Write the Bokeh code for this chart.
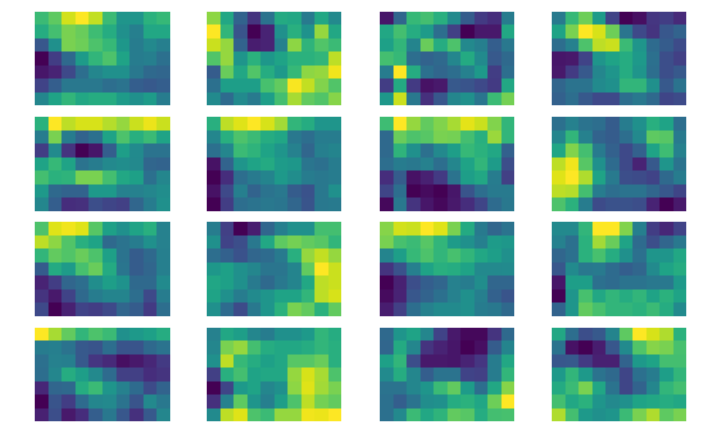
import numpy as np
from bokeh.embed import file_html
from bokeh.layouts import column, row
from bokeh.models import LinearColorMapper, Range1d
from bokeh.palettes import Viridis256
from bokeh.plotting import figure
from bokeh.resources import INLINE

panel_01 = [[68,75,93,100,91,68,52,52,64,67],[62,70,80,77,69,62,50,43,60,60],[27,50,80,78,72,67,53,42,47,43],[0,18,34,55,66,72,58,42,43,37],[6,10,22,36,46,50,50,40,34,33],[20,30,40,40,40,36,38,30,28,30],[46,58,66,60,62,62,55,50,55,42]]
panel_02 = [[83,60,32,15,38,61,60,41,60,47],[100,66,26,0,10,50,63,51,84,60],[92,84,32,8,10,44,83,65,73,68],[73,84,52,64,53,58,64,64,66,90],[29,77,60,73,62,54,67,83,84,98],[37,56,56,56,71,76,99,91,81,73],[48,35,48,41,56,70,87,76,73,82]]
panel_03 = [[6,33,67,70,63,48,29,17,13,42],[60,70,62,55,36,19,0,7,7,60],[57,66,45,77,62,72,47,43,30,40],[70,67,36,32,34,46,61,48,28,34],[42,100,62,37,33,36,44,54,18,36],[18,61,17,5,7,28,26,22,17,60],[53,92,40,14,27,46,50,39,68,79]]
panel_04 = [[41,67,78,55,20,0,4,16,18,12],[58,80,100,94,78,39,22,15,27,32],[36,44,72,90,92,68,52,35,29,23],[6,7,20,52,58,62,54,37,24,19],[7,17,28,46,52,62,52,36,24,28],[33,38,38,48,50,66,66,50,28,38],[31,36,28,22,22,36,40,34,21,23]]
panel_05 = [[64,100,90,94,94,89,84,92,97,92],[42,80,42,32,37,58,72,63,68,58],[18,48,15,0,6,30,56,48,38,38],[58,67,58,38,42,47,49,47,33,32],[70,64,65,80,80,70,60,57,37,46],[54,34,32,32,54,54,44,44,46,49],[46,30,13,14,24,21,19,33,42,50]]
panel_06 = [[63,90,95,100,94,86,66,62,52,52],[46,63,72,68,62,59,40,36,42,42],[37,46,68,65,58,52,44,33,43,45],[5,32,52,58,61,55,53,39,37,42],[0,13,36,41,45,54,49,42,40,42],[5,22,43,32,38,40,29,25,40,50],[0,18,36,38,40,39,33,26,40,41]]
panel_07 = [[69,100,84,76,81,87,96,92,81,66],[34,77,72,74,80,79,70,63,85,66],[34,65,50,37,47,56,67,64,60,31],[36,42,40,44,36,46,58,66,55,24],[13,29,5,9,17,38,56,60,42,19],[21,36,0,3,0,6,26,36,41,41],[2,40,15,6,2,7,13,21,35,40]]
panel_08 = [[37,44,38,36,29,42,50,63,58,36],[46,66,44,32,29,36,47,75,74,41],[59,81,70,41,31,22,31,58,69,44],[90,98,74,50,35,22,10,28,52,38],[95,100,88,58,41,24,23,20,34,42],[90,89,70,42,36,38,38,33,27,21],[72,64,42,23,25,25,24,10,0,7]]
panel_09 = [[72,95,98,95,74,57,50,58,63,44],[90,83,73,63,58,34,38,42,50,44],[66,76,73,77,72,57,38,29,34,43],[29,61,55,71,77,61,39,29,33,43],[10,18,33,36,49,56,51,34,34,48],[15,7,20,34,42,45,45,36,22,42],[22,0,9,20,18,22,33,29,17,36]]
panel_10 = [[42,19,0,8,33,43,50,50,70,70],[50,20,24,40,60,75,79,76,74,66],[36,31,25,33,35,41,63,84,91,84],[53,57,50,46,39,39,45,76,100,92],[59,57,50,41,34,40,45,60,90,92],[58,50,42,48,52,58,58,66,90,94],[50,35,23,40,52,64,80,76,64,76]]
panel_11 = [[82,93,92,100,95,80,61,41,33,38],[80,71,68,74,66,55,50,43,55,53],[45,56,67,72,66,71,66,60,56,50],[15,25,43,58,63,62,58,47,47,48],[0,9,24,30,33,44,42,49,33,33],[3,10,27,32,37,44,50,43,31,26],[8,19,36,44,48,48,50,42,40,34]]
panel_12 = [[47,47,66,100,100,81,43,18,11,20],[44,37,64,86,77,58,35,24,33,40],[33,37,64,71,62,50,37,52,52,60],[27,48,40,41,35,30,33,48,58,62],[6,56,56,37,35,38,38,40,40,54],[0,52,71,60,66,62,66,58,64,58],[32,52,76,71,66,66,64,68,62,48]]
panel_13 = [[100,87,76,66,72,68,50,54,57,62],[42,43,38,28,26,36,26,26,34,38],[37,44,43,28,16,12,4,7,11,17],[36,46,62,56,47,35,19,19,13,15],[11,33,34,62,68,52,44,35,23,32],[0,26,18,35,46,47,38,26,47,40],[9,24,7,13,30,40,27,14,28,46]]
panel_14 = [[44,60,56,46,42,50,50,54,66,62],[46,80,84,70,62,60,60,62,66,63],[50,90,67,62,57,60,74,74,77,63],[19,63,70,58,60,60,84,94,87,72],[0,21,54,58,46,50,83,95,86,80],[14,44,75,52,43,56,72,90,79,76],[48,90,95,72,68,84,84,98,97,100]]
panel_15 = [[34,52,58,46,20,7,2,2,15,34],[33,61,46,15,10,6,0,4,29,45],[57,66,24,7,7,6,10,16,42,60],[48,62,46,30,38,38,20,19,42,66],[38,38,46,52,68,76,55,36,60,82],[37,30,38,49,50,62,64,59,78,100],[37,47,68,60,65,76,74,62,70,71]]
panel_16 = [[60,36,24,28,45,75,100,94,88,64],[38,5,0,8,27,48,73,82,80,71],[27,28,17,9,9,32,54,58,70,70],[54,66,54,38,34,21,37,42,56,66],[61,68,80,59,38,21,32,46,66,70],[70,60,64,52,47,50,58,60,62,60],[88,70,54,50,52,68,80,88,75,80]]

panels = [panel_01, panel_02, panel_03, panel_04, panel_05, panel_06, panel_07, panel_08,
          panel_09, panel_10, panel_11, panel_12, panel_13, panel_14, panel_15, panel_16]

col_geom = [(34, 136, 18), (18, 135, 19), (19, 135, 18), (19, 135, 18)]
row_geom = [(11, 94, 5), (6, 95, 5), (5, 95, 6), (5, 94, 3)]

mapper = LinearColorMapper(palette=Viridis256, low=0, high=100)

rows = []
for r, (top, fh, bottom) in enumerate(row_geom):
    figs = []
    for c, (left, fw, right) in enumerate(col_geom):
        data = np.array(panels[r * 4 + c], dtype=float)[::-1]
        ny, nx = data.shape
        p = figure(width=left + fw + right, height=top + fh + bottom,
                   min_border_left=left, min_border_right=right,
                   min_border_top=top, min_border_bottom=bottom,
                   x_range=Range1d(0, nx), y_range=Range1d(0, ny),
                   output_backend="svg", toolbar_location=None,
                   x_axis_location=None, y_axis_location=None)
        p.grid.visible = False
        p.outline_line_color = None
        p.image(image=[data], x=0, y=0, dw=nx, dh=ny, color_mapper=mapper)
        figs.append(p)
    rows.append(row(*figs, spacing=0))
layout = column(*rows, spacing=0)

open("out.html", "w").write(file_html(layout, INLINE))
